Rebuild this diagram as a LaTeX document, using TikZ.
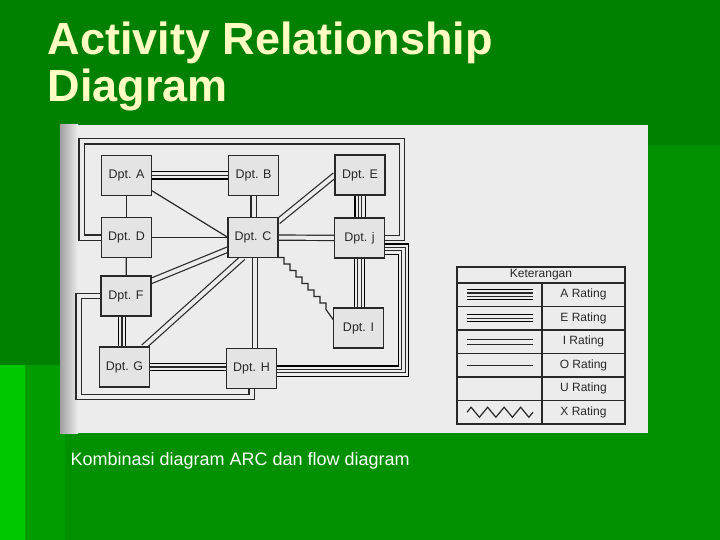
\documentclass[tikz,border=0pt]{standalone}
\usepackage{fontspec}
\setmainfont{Liberation Sans}
\usetikzlibrary{backgrounds,decorations.pathmorphing}
\definecolor{slidegreen}{RGB}{0,128,0}
\definecolor{slidelight}{RGB}{0,144,0}
\definecolor{stripgreen}{RGB}{0,200,0}
\definecolor{stripmid}{RGB}{0,156,0}
\definecolor{titleyellow}{RGB}{255,255,195}
\definecolor{scanbg}{RGB}{236,236,236}
\definecolor{scanshade}{RGB}{160,160,160}
\definecolor{boxfill}{RGB}{228,228,228}
\definecolor{scanink}{RGB}{40,40,40}

\begin{document}
\begin{tikzpicture}[x=1pt, y=-1pt,
    dept/.style={draw=scanink, line width=1.3pt, fill=boxfill, minimum width=50pt, minimum height=40pt, inner sep=0pt, outer sep=0pt, font=\fontsize{12.5}{14}\selectfont, text=scanink},
    conline/.style={draw=scanink, line width=1.2pt, line join=miter},
    orating/.style={conline},
    irating/.style={conline, double=scanbg, double distance=4pt},
    erating/.style={conline, preaction={draw, double=scanbg, double distance=6pt}},
    arating/.style={conline, double=scanbg, double distance=2.2pt, preaction={draw, double=scanbg, double distance=9pt}},
    xrating/.style={conline},
    keyline/.style={draw=scanink, line width=1.1pt},
    keytext/.style={font=\fontsize{12}{14}\selectfont, text=scanink},
]
    \useasboundingbox (0,0) rectangle (720,540);

    \node[dept] (depA) at (126.5,175.5) {Dpt. A};
    \node[dept] (depB) at (253.5,175.5) {Dpt. B};
    \node[dept] (depE) at (360,175) {Dpt. E};
    \node[dept] (depD) at (126.5,237.5) {Dpt. D};
    \node[dept] (depC) at (253,237.5) {Dpt. C};
    \node[dept] (depJ) at (359.5,238) {Dpt. j};
    \node[dept] (depF) at (126,296) {Dpt. F};
    \node[dept] (depI) at (358.5,328) {Dpt. I};
    \node[dept] (depG) at (124.5,367) {Dpt. G};
    \node[dept] (depH) at (251.5,368.5) {Dpt. H};

    \begin{scope}[on background layer]
        \fill[slidegreen] (0,0) rectangle (720,540);
        \fill[slidelight] (60,145) rectangle (720,540);
        \fill[stripgreen] (0,365) rectangle (25,540);
        \fill[stripmid] (25,365) rectangle (65,540);
        \fill[scanbg] (60,125) rectangle (648,433);
        \shade[left color=scanshade, right color=scanbg] (60,125) rectangle (78,433);

        \draw[orating] (depA) -- (depD);
        \draw[erating] (depA) -- (depB);
        \draw[orating] ([yshift=5pt]depA.south east) -- (depC.west);
        \draw[irating] (depB.south) -- (depB.south |- depC.north);
        \draw[irating] ([yshift=-4pt]depC.north east) -- (depE.west);
        \draw[orating] (depD) -- (depC);
        \draw[irating] (depC) -- (depJ);
        \draw[arating] (depE.south) -- (depE.south |- depJ.north);
        \draw[arating] (depJ.south) -- (depJ.south |- depI.north);
        \draw[irating] (depD.west) -| (81.5,141.5) -| (402,238) -- (depJ.east);
        \draw[orating] (depD) -- (depF);
        \draw[irating] ([yshift=-12pt]depC.west) -- ([yshift=-5pt]depF.north east);
        \draw[irating] ([xshift=-10pt]depC.south) -- ([xshift=-6pt]depG.north east);
        \draw[irating] ([xshift=2pt]depC.south) -- ([xshift=2pt]depC.south |- depH.north);
        \draw[xrating] (depC.south east) \foreach \k in {1,...,8}{ -- ++(6,0) -- ++(0,6.5)} -- ([yshift=8pt]depI.west);
        \draw[erating] ([xshift=-4pt]depF.south) -- ([xshift=-4pt]depF.south |- depG.north);
        \draw[erating] (depG.east) -- (depG.east -| depH.west);
        \draw[irating] (depF.west) -| (78.5,397) -| (depH.south);
        \draw[arating] ([yshift=-11pt]depJ.east) -| (403.5,371) -- ([yshift=-2.5pt]depH.east);
    \end{scope}

    \draw[keyline] (457,267) rectangle (625,424)
        (457,283) -- (625,283) (457,306.5) -- (625,306.5) (457,330) -- (625,330)
        (457,353.5) -- (625,353.5) (457,377) -- (625,377) (457,400.5) -- (625,400.5)
        (542,283) -- (542,424);
    \node[keytext] (keyhead) at (541,275) {Keterangan};
    \node[keytext] (keyA) at (583.5,294.75) {A Rating};
    \node[keytext] (keyE) at (583.5,318.25) {E Rating};
    \node[keytext] (keyI) at (583.5,341.75) {I Rating};
    \node[keytext] (keyO) at (583.5,365.25) {O Rating};
    \node[keytext] (keyU) at (583.5,388.75) {U Rating};
    \node[keytext] (keyX) at (583.5,412.25) {X Rating};
    \draw[arating] (467,294.75) -- (533,294.75);
    \draw[erating] (467,318.25) -- (533,318.25);
    \draw[irating] (467,341.75) -- (533,341.75);
    \draw[orating] (467,365.25) -- (533,365.25);
    \draw[xrating, decorate, decoration={zigzag, segment length=16.5pt, amplitude=5pt}] (467,412.25) -- (533,412.25);

    \node[anchor=base west, font=\fontsize{45}{47}\bfseries, text=titleyellow] (title) at (44,55) {Activity Relationship};
    \node[anchor=base west, font=\fontsize{45}{47}\bfseries, text=titleyellow] (title2) at (44,101.7) {Diagram};
    \node[anchor=base west, font=\fontsize{18}{20}\selectfont, text=white] (caption) at (67,465) {Kombinasi diagram ARC dan flow diagram};
\end{tikzpicture}
\end{document}
